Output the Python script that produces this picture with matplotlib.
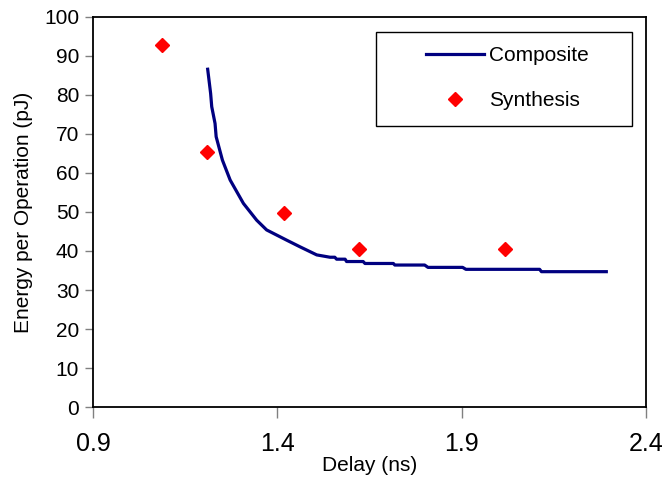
import matplotlib.pyplot as plt
from matplotlib.patches import Rectangle

plt.rcParams["font.family"] = ["Liberation Sans", "DejaVu Sans"]

# Composite curve (delay in ns, energy in pJ)
composite_delay = [1.211, 1.219, 1.222, 1.231, 1.234, 1.251, 1.272, 1.308,
                   1.344, 1.371, 1.425, 1.461, 1.507, 1.543, 1.556, 1.561,
                   1.584, 1.588, 1.633, 1.638, 1.715, 1.719, 1.800, 1.809,
                   1.903, 1.912, 2.112, 2.117, 2.293]
composite_energy = [86.6, 80.4, 77.0, 72.7, 69.3, 63.3, 58.2, 52.2,
                    47.9, 45.4, 42.8, 41.1, 39.0, 38.4, 38.4, 37.9,
                    37.9, 37.3, 37.3, 36.8, 36.8, 36.4, 36.4, 35.8,
                    35.8, 35.3, 35.3, 34.7, 34.7]

# Synthesis points
synth_delay = [1.087, 1.210, 1.417, 1.622, 2.019]
synth_energy = [92.8, 65.5, 49.7, 40.4, 40.4]

x_ticks = [0.9, 1.4, 1.9, 2.4]
y_ticks = list(range(0, 101, 10))

fig = plt.figure(figsize=(6.65, 4.78), dpi=100)
ax = fig.add_axes([0.140, 0.1485, 0.831, 0.816])

ax.plot(composite_delay, composite_energy, color="#000080", lw=2.3,
        label="Composite")
ax.plot(synth_delay, synth_energy, ls="none", marker="D", ms=7,
        color="#ff0000", mec="#ff0000", label="Synthesis")

ax.set_xlim(0.9, 2.4)
ax.set_ylim(0, 100)
ax.set_xticks(x_ticks)
ax.set_xticklabels([f"{t:.1f}" for t in x_ticks])
ax.set_yticks(y_ticks)

for s in ax.spines.values():
    s.set_color("black")
    s.set_linewidth(1.3)

ax.tick_params(axis="x", direction="out", length=8, width=1, color="#808080",
               labelsize=18, pad=10)
ax.tick_params(axis="y", direction="out", length=6, width=1, color="#808080",
               labelsize=15, pad=4)

ax.set_xlabel("Delay (ns)", fontsize=15, labelpad=0)
ax.set_ylabel("Energy per Operation (pJ)", fontsize=15, labelpad=8)

# legend frame drawn separately so the padding matches
ax.add_patch(Rectangle((0.512, 0.7205), 0.463, 0.241, transform=ax.transAxes,
                       fill=False, ec="black", lw=1, zorder=4))
ax.legend(loc="center left", bbox_to_anchor=(0.603, 0.843), frameon=False,
          fontsize=15, handlelength=2.75, handletextpad=0.25,
          labelspacing=1.25, borderpad=0, borderaxespad=0)

fig.savefig("out.png", dpi=100)
